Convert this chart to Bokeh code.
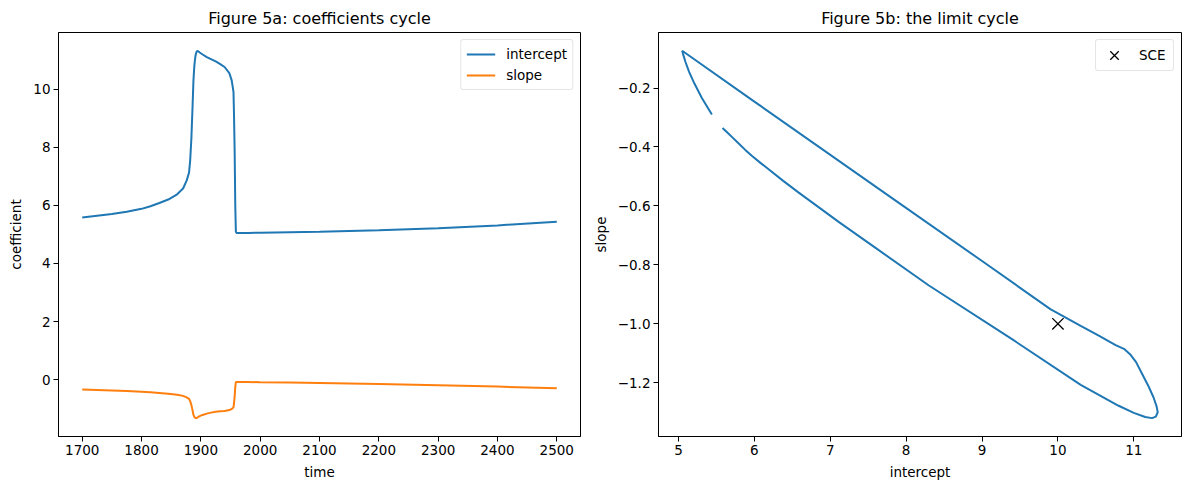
from bokeh.plotting import figure
from bokeh.layouts import row
from bokeh.models import FixedTicker, Range1d
from bokeh.embed import file_html
from bokeh.resources import INLINE

# ---- data ----
time = [1700, 1725, 1750, 1775, 1800, 1815, 1830, 1845, 1860, 1870, 1876, 1880,
        1882, 1884, 1886, 1887.5, 1889, 1890, 1891, 1892, 1893, 1894, 1895.5,
        1898, 1903, 1910, 1917, 1925, 1932, 1940, 1948, 1952, 1955, 1956, 1957,
        1958, 1959, 1960, 1980, 2000, 2050, 2100, 2200, 2300, 2400, 2500]
intercept = [5.58, 5.64, 5.70, 5.78, 5.88, 5.97, 6.08, 6.20, 6.38, 6.58, 6.85, 7.12,
             7.55, 8.30, 9.40, 10.30, 10.80, 11.00, 11.15, 11.24, 11.29, 11.315, 11.30,
             11.26, 11.19, 11.10, 11.03, 10.95, 10.87, 10.76, 10.55, 10.30, 9.90, 9.00, 7.80,
             6.00, 5.10, 5.05, 5.052, 5.06, 5.075, 5.09, 5.14, 5.21, 5.31, 5.44]
slope = [-0.336, -0.35, -0.365, -0.385, -0.41, -0.431, -0.454, -0.478, -0.515, -0.554, -0.605, -0.656,
         -0.734, -0.870, -1.053, -1.207, -1.278, -1.302, -1.316, -1.320, -1.315, -1.300, -1.280,
         -1.250, -1.210, -1.165, -1.130, -1.103, -1.085, -1.072, -1.042, -1.007, -0.950, -0.787, -0.571,
         -0.246, -0.083, -0.074, -0.077, -0.085, -0.097, -0.11, -0.145, -0.185, -0.235, -0.29]
sce_intercept = [10.0]
sce_slope = [-1.0]

time_ticks = [1700, 1800, 1900, 2000, 2100, 2200, 2300, 2400, 2500]
coef_ticks = [0, 2, 4, 6, 8, 10]
intercept_ticks = [5, 6, 7, 8, 9, 10, 11]
slope_ticks = [-1.2, -1.0, -0.8, -0.6, -0.4, -0.2]
slope_tick_labels = ["\u22121.2", "\u22121.0", "\u22120.8", "\u22120.6", "\u22120.4", "\u22120.2"]

FONT = "DejaVu Sans"
BLUE = "#1f77b4"
ORANGE = "#ff7f0e"


def padded(lo, hi, frac=0.05):
    r = hi - lo
    return Range1d(lo - frac * r, hi + frac * r)


def style(p):
    p.xgrid.visible = False
    p.ygrid.visible = False
    p.outline_line_color = "black"
    p.outline_line_alpha = 1.0
    p.outline_line_width = 1
    p.background_fill_color = "white"
    p.border_fill_color = "white"
    p.title.text_font = FONT
    p.title.text_font_size = "16px"
    p.title.text_font_style = "normal"
    p.title.text_color = "black"
    p.title.align = "center"
    for ax in p.axis:
        ax.axis_line_color = "black"
        ax.major_tick_line_color = "black"
        ax.major_tick_out = 5
        ax.major_tick_in = 0
        ax.minor_tick_line_color = None
        ax.major_label_text_font = FONT
        ax.major_label_text_font_size = "13.5px"
        ax.major_label_text_color = "black"
        ax.major_label_standoff = 3
        ax.axis_label_text_font = FONT
        ax.axis_label_text_font_size = "13.5px"
        ax.axis_label_text_font_style = "normal"
        ax.axis_label_text_color = "black"
        ax.axis_label_standoff = 6


def style_legend(leg, glyph_width=29, glyph_height=18, padding=5, standoff=11, label_width=20):
    leg.location = "top_right"
    leg.margin = 7
    leg.padding = padding
    leg.spacing = 3
    leg.glyph_width = glyph_width
    leg.glyph_height = glyph_height
    leg.label_height = glyph_height
    leg.label_width = label_width
    leg.label_standoff = standoff
    leg.label_text_font = FONT
    leg.label_text_font_size = "13.5px"
    leg.label_text_color = "black"
    leg.border_line_color = "#cccccc"
    leg.border_line_width = 1
    leg.background_fill_alpha = 0.8
    try:
        leg.border_radius = 3
    except Exception:
        pass


# ---- Figure 5a ----
lo = min(min(intercept), min(slope))
hi = max(max(intercept), max(slope))
left = figure(width=585, height=490, output_backend="svg", toolbar_location=None,
              title="Figure 5a: coefficients cycle",
              x_range=padded(min(time), max(time)), y_range=padded(lo, hi),
              min_border_left=58, min_border_right=5, min_border_top=32, min_border_bottom=54,
              x_axis_label="time", y_axis_label="coefficient")
left.line(time, intercept, line_color=BLUE, line_width=2, legend_label="intercept")
left.line(time, slope, line_color=ORANGE, line_width=2, legend_label="slope")
left.xaxis.ticker = FixedTicker(ticks=time_ticks)
left.yaxis.ticker = FixedTicker(ticks=coef_ticks)
style(left)
style_legend(left.legend[0])

# ---- Figure 5b ----
right = figure(width=604, height=490, output_backend="svg", toolbar_location=None,
               title="Figure 5b: the limit cycle",
               x_range=padded(min(intercept), max(intercept)),
               y_range=padded(min(slope), max(slope)),
               min_border_left=73, min_border_right=8, min_border_top=32, min_border_bottom=54,
               x_axis_label="intercept", y_axis_label="slope")
right.line(intercept, slope, line_color=BLUE, line_width=2)
right.scatter(sce_intercept, sce_slope, marker="x", size=16, line_color="black",
              line_width=1.3, legend_label="SCE")
right.xaxis.ticker = FixedTicker(ticks=intercept_ticks)
right.yaxis.ticker = FixedTicker(ticks=slope_ticks)
right.yaxis.major_label_overrides = {t: s for t, s in zip(slope_ticks, slope_tick_labels)}
style(right)
style_legend(right.legend[0], glyph_width=36, glyph_height=30, padding=0, standoff=7, label_width=34)

layout = row(left, right)
open("out.html", "w").write(file_html(layout, INLINE))
